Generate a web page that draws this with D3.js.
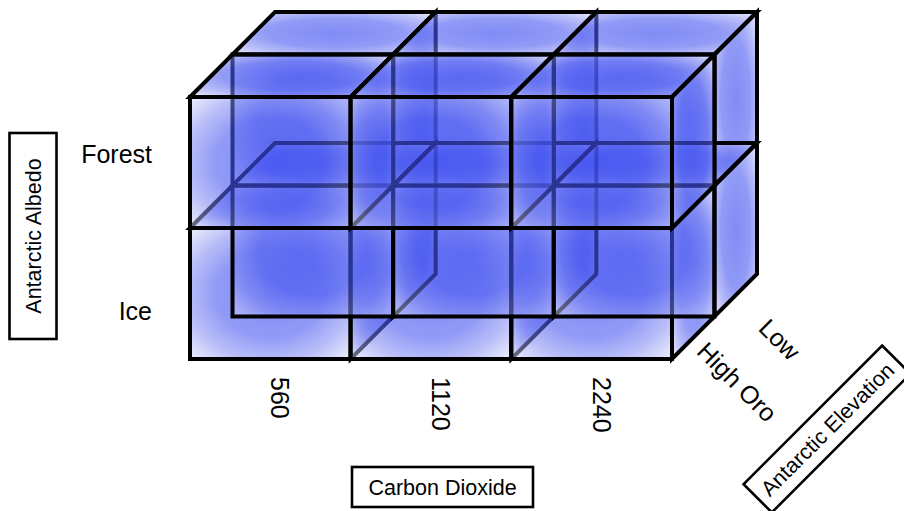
<!DOCTYPE html>
<html><head><meta charset="utf-8">
<script src="https://cdn.jsdelivr.net/npm/d3@7"></script>
<style>
body{margin:0;background:#fff}
svg{display:block}
text{font-family:"Liberation Sans",Arial,Helvetica,sans-serif;fill:#000}
</style>
</head><body>
<svg id="c" width="904" height="511"></svg>
<script>
// ---- data ----
const co2 = ["560", "1120", "2240"];            // Carbon Dioxide (columns)
const albedo = ["Forest", "Ice"];               // Antarctic Albedo (rows)
const elevation = ["High Oro", "Low"];          // Antarctic Elevation (front -> back)
const xTitle = "Carbon Dioxide";
const yTitle = "Antarctic Albedo";
const zTitle = "Antarctic Elevation";

// ---- scales ----
const svg = d3.select("#c");
const x = d3.scaleBand().domain(co2).range([190, 672]);
const y = d3.scaleBand().domain(albedo).range([97, 359]);
const zi = d3.scaleOrdinal().domain(elevation).range(d3.range(elevation.length));
const zx = d3.scaleLinear().domain([0, elevation.length]).range([0, 85]);
const zy = d3.scaleLinear().domain([0, elevation.length]).range([0, -85]);

// ---- gradient ----
const defs = svg.append("defs");
const g = defs.append("radialGradient").attr("id", "cell").attr("r", 0.68);
[[0, "#3a4af0", 0.64], [0.5, "#4858f0", 0.6], [0.76, "#7c86f2", 0.54], [1, "#d0d2fa", 0.5]]
  .forEach(([o, c, a]) => g.append("stop").attr("offset", o).attr("stop-color", c).attr("stop-opacity", a));

const P = (xx, yy, d) => [xx + zx(d), yy + zy(d)];
const line = d3.line();

function cube(c, r, e) {
  const x0 = x(c), x1 = x0 + x.bandwidth(), y0 = y(r), y1 = y0 + y.bandwidth();
  const d = zi(e);
  const faces = [
    [P(x0, y0, d), P(x1, y0, d), P(x1, y1, d), P(x0, y1, d)],
    [P(x0, y0, d), P(x0, y0, d + 1), P(x1, y0, d + 1), P(x1, y0, d)],
    [P(x1, y0, d), P(x1, y0, d + 1), P(x1, y1, d + 1), P(x1, y1, d)]
  ];
  const grp = svg.append("g");
  grp.selectAll("path").data(faces).join("path")
    .attr("d", f => line(f) + "Z")
    .attr("fill", "url(#cell)")
    .attr("stroke", "#000")
    .attr("stroke-width", 4)
    .attr("stroke-linejoin", "miter");
}

// drawing order as in the original figure
const order = [["Forest", "Low"], ["Ice", "High Oro"], ["Ice", "Low"], ["Forest", "High Oro"]];
order.forEach(([r, e]) => co2.forEach(c => cube(c, r, e)));

// ---- labels ----
svg.selectAll("text.xt").data(co2).join("text").attr("class", "xt")
  .attr("transform", c => `translate(${x(c) + x.bandwidth() / 2 + 10},377) rotate(90)`)
  .attr("dominant-baseline", "central")
  .style("font-size", "25px")
  .text(c => c);

const ly = d3.scalePoint().domain(albedo).range([154, 311]);
svg.selectAll("text.yt").data(albedo).join("text").attr("class", "yt")
  .attr("x", 152).attr("y", r => ly(r))
  .attr("text-anchor", "end").attr("dominant-baseline", "central")
  .style("font-size", "25px")
  .text(r => r);

svg.selectAll("text.zt").data(elevation).join("text").attr("class", "zt")
  .attr("transform", e => {
    const [px, py] = P(x.range()[1], y.range()[1], zi(e) + 0.5);
    return `translate(${px + 44},${py + 44}) rotate(45)`;
  })
  .attr("text-anchor", "middle").attr("dominant-baseline", "central")
  .style("font-size", "25px")
  .text(e => e);

function titleBox(tx, ty, rot, w, h, label) {
  const t = svg.append("g").attr("transform", `translate(${tx},${ty}) rotate(${rot})`);
  t.append("rect").attr("x", -w / 2).attr("y", -h / 2).attr("width", w).attr("height", h)
    .attr("fill", "#fff").attr("stroke", "#000").attr("stroke-width", 2.6);
  t.append("text").attr("text-anchor", "middle").attr("dominant-baseline", "central")
    .attr("y", 1).style("font-size", "21.5px").text(label);
}
titleBox(442.5, 487, 0, 181, 40, xTitle);
titleBox(33, 236, -90, 206, 47, yTitle);
titleBox(827, 429, -45, 196, 40, zTitle);
</script>
</body></html>
